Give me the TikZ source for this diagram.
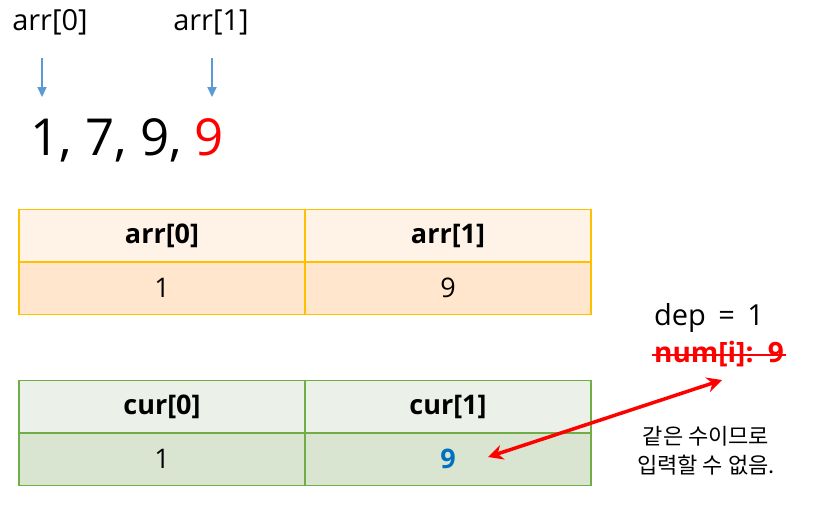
\documentclass[tikz,border=0pt]{standalone}
\usepackage{fontspec}
\setmainfont{Open Sans}
\newfontfamily\kor{Noto Sans CJK KR}
\usepackage{tikz}
\usetikzlibrary{positioning,arrows.meta,calc}
\definecolor{ptr}{HTML}{5B9BD5}
\definecolor{hit}{HTML}{FF0000}
\definecolor{orgline}{HTML}{FFC000}
\definecolor{orghead}{HTML}{FFF3E7}
\definecolor{orgcell}{HTML}{FFE6CC}
\definecolor{grnline}{HTML}{70AD47}
\definecolor{grnhead}{HTML}{EBF0E8}
\definecolor{grncell}{HTML}{D9E5D0}
\definecolor{curblue}{HTML}{0070C0}
\tikzset{
  cell/.style={rectangle,minimum width=286pt,minimum height=52.5pt,inner sep=0pt,
    line width=1.5pt,font=\fontsize{27}{30}\selectfont},
  arrcell/.style={cell,draw=orgline},
  curcell/.style={cell,draw=grnline},
  ptrarrow/.style={-{Triangle[length=10pt,width=9pt]},draw=ptr,line width=2pt},
  big/.style={inner sep=0pt,font=\fontsize{29}{32}\selectfont},
}

\begin{document}
\begin{tikzpicture}[x=1pt,y=-1pt]
  \useasboundingbox (0,0) rectangle (819,509);
  % pointer labels and the sequence
  \node[big] (lbl0) at (50,22) {arr[0]};
  \node[big] (lbl1) at (211,22) {arr[1]};
  \node[anchor=west,inner sep=0pt,font=\fontsize{51}{56}\selectfont] (seq) at (30,140)
    {1, 7, 9, \textcolor{hit}{9}};
  \coordinate (p0a) at (42,58); \coordinate (p0b) at (42,97);
  \coordinate (p1a) at (212,58); \coordinate (p1b) at (212,97);
  \draw[ptrarrow] (p0a) -- (p0b);
  \draw[ptrarrow] (p1a) -- (p1b);
  % arr table
  \node[arrcell,fill=orghead] (ah0) at (162,235.5) {\bfseries arr[0]};
  \node[arrcell,fill=orghead] (ah1) at (448,235.5) {\bfseries arr[1]};
  \node[arrcell,fill=orgcell] (av0) at (162,288) {1};
  \node[arrcell,fill=orgcell] (av1) at (448,288) {9};
  % cur table
  \node[curcell,fill=grnhead] (ch0) at (162,406.5) {\bfseries cur[0]};
  \node[curcell,fill=grnhead] (ch1) at (448,406.5) {\bfseries cur[1]};
  \node[curcell,fill=grncell] (cv0) at (162,459) {1};
  \node[curcell,fill=grncell] (cv1) at (448,459) {\textcolor{curblue}{\bfseries 9}};
  % state on the right
  \node[big] (dep) at (709,318) {dep\, =\, 1};
  \node[big,text=hit,font=\fontsize{28}{30}\selectfont\bfseries] (num) at (719,354) {num[i]:\, 9};
  \draw[hit,line width=2pt] ([xshift=-2pt,yshift=-1pt]num.west) -- ([xshift=2pt,yshift=-1pt]num.east);
  \node[align=center,inner sep=0pt,font=\kor\fontsize{22}{29}\selectfont] (note) at (706,451)
    {같은 수이므로\\입력할 수 없음.};
  \coordinate (tipl) at (488,457);
  \coordinate (tipr) at (722,380);
  \draw[{Stealth[length=15pt,width=15pt]}-{Stealth[length=15pt,width=15pt]},hit,line width=3.5pt] (tipl) -- (tipr);
\end{tikzpicture}
\end{document}
